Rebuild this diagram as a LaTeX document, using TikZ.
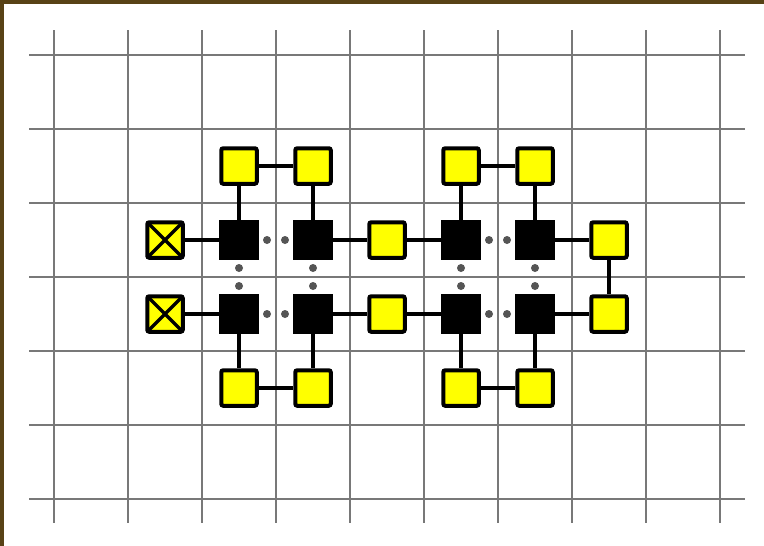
\documentclass[tikz,border=0pt]{standalone}
\usetikzlibrary{calc}
\definecolor{frame}{RGB}{88,66,22}
\definecolor{gridgray}{RGB}{120,120,120}
\definecolor{dotgray}{RGB}{85,85,85}
\definecolor{yel}{RGB}{255,255,0}
\tikzset{
  gridline/.style={draw=gridgray, line width=1.8pt},
  ybox/.style={draw=black, fill=yel, line width=4pt, minimum size=35.5pt, inner sep=0pt, rounded corners=2pt},
  bbox/.style={draw=black, fill=black, line width=4pt, minimum size=35.5pt, inner sep=0pt},
  xbox/.style={ybox, path picture={\draw[line width=3.5pt] (path picture bounding box.north west) -- (path picture bounding box.south east) (path picture bounding box.north east) -- (path picture bounding box.south west);}},
  link/.style={draw=black, line width=3.6pt},
  gdot/.style={fill=dotgray, draw=none}
}
\begin{document}
\begin{tikzpicture}[x=1pt,y=-1pt]
\useasboundingbox (0,0) rectangle (764,546);
\fill[white] (0,0) rectangle (764,546);
\fill[frame] (0,0) rectangle (764,4);
\fill[frame] (0,0) rectangle (4,546);
% grid
\foreach \x in {54,128,202,276,350,424,498,572,646,720}
  \draw[gridline] (\x,30) -- (\x,523);
\foreach \y in {55,129,203,277,351,425,499}
  \draw[gridline] (29,\y) -- (745,\y);
% nodes
\node[ybox] (t1) at (239,166) {};
\node[ybox] (t2) at (313,166) {};
\node[ybox] (t3) at (461,166) {};
\node[ybox] (t4) at (535,166) {};
\node[xbox] (x1) at (165,240) {};
\node[bbox] (a1) at (239,240) {};
\node[bbox] (a2) at (313,240) {};
\node[ybox] (m1) at (387,240) {};
\node[bbox] (a3) at (461,240) {};
\node[bbox] (a4) at (535,240) {};
\node[ybox] (r1) at (609,240) {};
\node[xbox] (x2) at (165,314) {};
\node[bbox] (b1) at (239,314) {};
\node[bbox] (b2) at (313,314) {};
\node[ybox] (m2) at (387,314) {};
\node[bbox] (b3) at (461,314) {};
\node[bbox] (b4) at (535,314) {};
\node[ybox] (r2) at (609,314) {};
\node[ybox] (u1) at (239,388) {};
\node[ybox] (u2) at (313,388) {};
\node[ybox] (u3) at (461,388) {};
\node[ybox] (u4) at (535,388) {};
% connectors
\draw[link] (t1) -- (t2);
\draw[link] (t3) -- (t4);
\draw[link] (t1) -- (a1);
\draw[link] (t2) -- (a2);
\draw[link] (t3) -- (a3);
\draw[link] (t4) -- (a4);
\draw[link] (x1) -- (a1);
\draw[link] (a2) -- (m1);
\draw[link] (m1) -- (a3);
\draw[link] (a4) -- (r1);
\draw[link] (r1) -- (r2);
\draw[link] (x2) -- (b1);
\draw[link] (b2) -- (m2);
\draw[link] (m2) -- (b3);
\draw[link] (b4) -- (r2);
\draw[link] (b1) -- (u1);
\draw[link] (b2) -- (u2);
\draw[link] (b3) -- (u3);
\draw[link] (b4) -- (u4);
\draw[link] (u1) -- (u2);
\draw[link] (u3) -- (u4);
% dots
\foreach \p/\q in {a1/a2,a3/a4,b1/b2,b3/b4}{
  \fill[gdot] ($(\p)!0.5!(\q)+(-9,0)$) circle (4pt);
  \fill[gdot] ($(\p)!0.5!(\q)+(9,0)$) circle (4pt);
}
\foreach \p/\q in {a1/b1,a2/b2,a3/b3,a4/b4}{
  \fill[gdot] ($(\p)!0.5!(\q)+(0,-9)$) circle (4pt);
  \fill[gdot] ($(\p)!0.5!(\q)+(0,9)$) circle (4pt);
}
\end{tikzpicture}
\end{document}
